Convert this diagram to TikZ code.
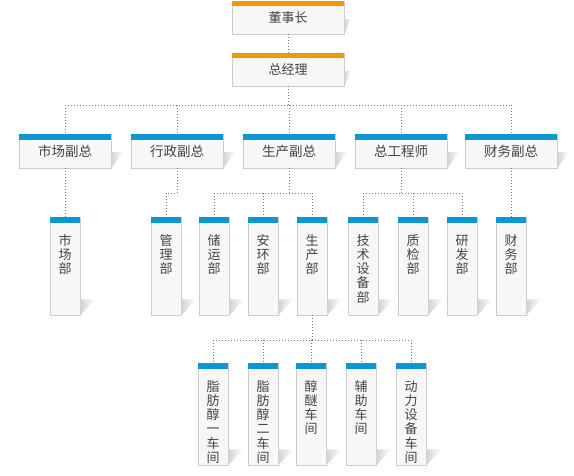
\documentclass[tikz,border=0pt]{standalone}
\usepackage{fontspec}
\setmainfont{Noto Sans CJK SC}
\definecolor{barorange}{HTML}{F39800}
\definecolor{barblue}{HTML}{0B96D4}
\definecolor{boxfill}{HTML}{F7F7F7}
\definecolor{boxline}{HTML}{CDCDCD}
\definecolor{txt}{HTML}{444444}
\definecolor{dotline}{HTML}{777777}
% vertical label: one character per line, starting near the top
\newcommand{\vlab}[2]{\parbox[c][#1][t]{30pt}{\centering\rule{0pt}{28pt}#2}}

\begin{document}
\begin{tikzpicture}[x=1pt,y=-1pt,
    topbox/.style={draw=boxline, fill=boxfill, text=txt, inner sep=0pt,
      minimum width=112pt, minimum height=33pt, font=\fontsize{13}{13}\selectfont},
    vpbox/.style={topbox, minimum width=92pt, minimum height=34pt,
      font=\fontsize{13.5}{13.5}\selectfont},
    deptbox/.style={draw=boxline, fill=boxfill, text=txt, inner sep=0pt,
      anchor=north, font=\fontsize{13}{14.2}\selectfont},
    link/.style={dotline, line width=0.8pt, dash pattern=on 0.8pt off 2.2pt},
    shadow/.style={left color=gray!35, right color=white, draw=none}]
  \useasboundingbox (0,0) rectangle (574,475);

  % top
  \node[topbox] (chair) at (288,17.5) {董事长};
  \node[topbox] (gm) at (288,69.5) {总经理};
  \foreach \n in {chair,gm} {
    \fill[barorange] (\n.north west) rectangle ([yshift=-5pt]\n.north east);
    \shade[shadow] (\n.south east) -- ++(0,-15) -- ++(7,0) -- cycle;
  }

  % vice presidents
  \foreach \n/\x/\t in {vpmkt/65/市场副总, vpadm/177/行政副总, vpprod/289/生产副总,
      chiefeng/401/总工程师, vpfin/511/财务副总} {
    \node[vpbox] (\n) at (\x,151) {\t};
    \fill[barblue] (\n.north west) rectangle ([yshift=-6pt]\n.north east);
    \shade[shadow] (\n.south east) -- ++(0,-16) -- ++(12,0) -- cycle;
  }

  % departments
  \foreach \n/\x/\t in {mkt/65/{市\\场\\部}, mgmt/166/{管\\理\\部}, store/214/{储\\运\\部},
      safety/263/{安\\环\\部}, prod/312/{生\\产\\部}, techeq/363/{技\\术\\设\\备\\部},
      qc/413/{质\\检\\部}, rnd/462/{研\\发\\部}, fin/511/{财\\务\\部}} {
    \node[deptbox] (\n) at (\x,217) {\vlab{98pt}{\t}};
    \fill[barblue] (\n.north west) rectangle ([yshift=-6pt]\n.north east);
    \shade[shadow] (\n.south east) -- ++(0,-16) -- ++(15,0) -- cycle;
  }

  % workshops
  \foreach \n/\x/\t in {ws1/213/{脂\\肪\\醇\\一\\车\\间}, ws2/263/{脂\\肪\\醇\\二\\车\\间},
      ether/311/{醇\\醚\\车\\间}, aux/361/{辅\\助\\车\\间}, power/411/{动\\力\\设\\备\\车\\间}} {
    \node[deptbox] (\n) at (\x,363) {\vlab{102pt}{\t}};
    \fill[barblue] (\n.north west) rectangle ([yshift=-6pt]\n.north east);
    \shade[shadow] (\n.south east) -- ++(0,-16) -- ++(15,0) -- cycle;
  }

  % connectors
  \coordinate (bus1) at (0,105);
  \coordinate (bus2) at (0,193);
  \coordinate (bus3) at (0,340);
  \draw[link] (chair) -- (gm);
  \draw[link] (gm.south) -- (gm.south |- bus1);
  \draw[link] (vpmkt.north |- bus1) -- (vpfin.north |- bus1);
  \foreach \n in {vpmkt,vpadm,vpprod,chiefeng,vpfin}
    \draw[link] (\n.north |- bus1) -- (\n.north);

  \draw[link] (vpmkt) -- (mkt);
  \draw[link] (vpfin) -- (fin);
  \draw[link] (vpadm.south) |- (mgmt.north |- bus2) -- (mgmt.north);
  \draw[link] (vpprod.south) -- (vpprod.south |- bus2);
  \draw[link] (store.north |- bus2) -- (prod.north |- bus2);
  \foreach \n in {store,safety,prod}
    \draw[link] (\n.north |- bus2) -- (\n.north);
  \draw[link] (chiefeng.south) -- (chiefeng.south |- bus2);
  \draw[link] (techeq.north |- bus2) -- (rnd.north |- bus2);
  \foreach \n in {techeq,qc,rnd}
    \draw[link] (\n.north |- bus2) -- (\n.north);

  \draw[link] (prod.south) -- (prod.south |- bus3);
  \draw[link] (ws1.north |- bus3) -- (power.north |- bus3);
  \foreach \n in {ws1,ws2,ether,aux,power}
    \draw[link] (\n.north |- bus3) -- (\n.north);
\end{tikzpicture}
\end{document}
